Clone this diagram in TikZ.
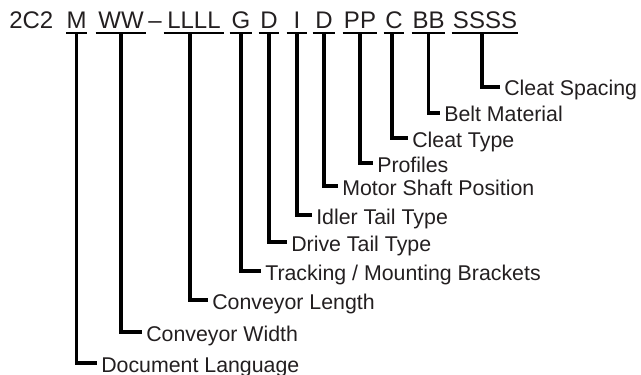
\documentclass[tikz,border=0pt]{standalone}
\usepackage{fontspec}
\setmainfont{Liberation Sans}
\definecolor{ink}{HTML}{231F20}
\begin{document}
\begin{tikzpicture}[x=0.75pt,y=-0.75pt,font=\fontsize{16}{19}\selectfont,
	code/.style={font=\fontsize{18}{22}\selectfont,text=ink,anchor=base,inner sep=0pt,text depth=0pt},
	item/.style={text=ink,anchor=west,inner xsep=3pt,inner ysep=0pt,text height=13.5pt,text depth=0pt},
	bar/.style={line width=1.5pt},
	leg/.style={line width=2.4pt}]
	\useasboundingbox (0,0) rectangle (641,374);
	% model code
	\node[code,anchor=base west] (pre) at (9,29) {2C2};
	\node[code,minimum width=15pt] (cM) at (76.5,29) {M};
	\node[code,minimum width=37.5pt] (cW) at (121,29) {WW};
	\node[code,anchor=base west] (dash) at (148,29) {–};
	\node[code,minimum width=45pt] (cL) at (194,29) {LLLL};
	\node[code,minimum width=16.5pt] (cG) at (241,29) {G};
	\node[code,minimum width=15pt] (cD) at (269,29) {D};
	\node[code,minimum width=15pt] (cI) at (297,29) {I};
	\node[code,minimum width=16.5pt] (cP) at (324,29) {D};
	\node[code,minimum width=25.5pt] (cPP) at (360,29) {PP};
	\node[code,minimum width=15pt] (cC) at (394,29) {C};
	\node[code,minimum width=24.75pt] (cB) at (428.5,29) {BB};
	\node[code,minimum width=49.5pt] (cS) at (485,29) {SSSS};
	\foreach \t in {cM,cW,cL,cG,cD,cI,cP,cPP,cC,cB,cS}
		\draw[bar] ([yshift=-3pt]\t.south west) -- ([yshift=-3pt]\t.south east);
	% legend
	\node[item] (lM) at (97,363) {Document Language};
	\node[item] (lW) at (142,332) {Conveyor Width};
	\node[item] (lL) at (208,300) {Conveyor Length};
	\node[item] (lG) at (261,271) {Tracking / Mounting Brackets};
	\node[item] (lD) at (287,242) {Drive Tail Type};
	\node[item] (lI) at (312,215) {Idler Tail Type};
	\node[item] (lP) at (338,186) {Motor Shaft Position};
	\node[item] (lPP) at (373,163) {Profiles};
	\node[item] (lC) at (408,138) {Cleat Type};
	\node[item] (lB) at (440,113) {Belt Material};
	\node[item] (lS) at (500,87) {Cleat Spacing};
	\draw[leg] ([yshift=-3pt]cM.south) |- (lM);
	\draw[leg] ([yshift=-3pt]cW.south) |- (lW);
	\draw[leg] ([xshift=-3pt,yshift=-3pt]cL.south) |- (lL);
	\draw[leg] ([yshift=-3pt]cG.south) |- (lG);
	\draw[leg] ([yshift=-3pt]cD.south) |- (lD);
	\draw[leg] ([yshift=-3pt]cI.south) |- (lI);
	\draw[leg] ([yshift=-3pt]cP.south) |- (lP);
	\draw[leg] ([yshift=-3pt]cPP.south) |- (lPP);
	\draw[leg] ([xshift=-1.5pt,yshift=-3pt]cC.south) |- (lC);
	\draw[leg] ([yshift=-3pt]cB.south) |- (lB);
	\draw[leg] ([xshift=-2.25pt,yshift=-3pt]cS.south) |- (lS);
\end{tikzpicture}
\end{document}
